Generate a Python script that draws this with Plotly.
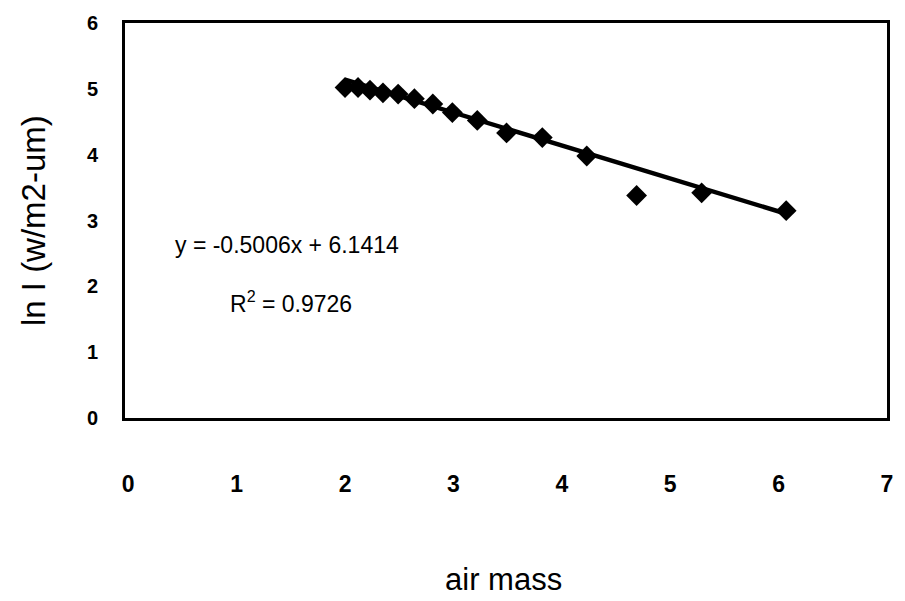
import plotly.graph_objects as go

air_mass = [2.00, 2.12, 2.23, 2.35, 2.49, 2.64, 2.81, 2.99, 3.22, 3.49, 3.82, 4.23, 4.69, 5.29, 6.07]
ln_I = [5.02, 5.02, 4.98, 4.94, 4.92, 4.85, 4.77, 4.64, 4.52, 4.33, 4.26, 3.98, 3.38, 3.42, 3.15]
slope = -0.5006
intercept = 6.1414
r2 = 0.9726
x_ticks = [0, 1, 2, 3, 4, 5, 6, 7]
y_ticks = [0, 1, 2, 3, 4, 5, 6]

FONT = "Liberation Sans, Arial, sans-serif"

x_fit = [min(air_mass), max(air_mass)]
y_fit = [slope * x + intercept for x in x_fit]

fig = go.Figure()
fig.add_trace(go.Scatter(x=x_fit, y=y_fit, mode="lines",
                         line=dict(color="black", width=4.5), showlegend=False))
fig.add_trace(go.Scatter(x=air_mass, y=ln_I, mode="markers",
                         marker=dict(symbol="diamond", size=16, color="black"),
                         showlegend=False))

fig.update_layout(
    width=905, height=601,
    margin=dict(l=125, r=15, t=22, b=183),
    paper_bgcolor="white", plot_bgcolor="white",
    font=dict(family=FONT, color="black"),
    xaxis=dict(range=[-0.03, 7.0], tickvals=x_ticks, showgrid=False, zeroline=False,
               showline=True, linecolor="black", linewidth=3, mirror=True,
               ticks="", tickfont=dict(size=23, family=FONT, weight="bold"),
               ticklabelstandoff=43),
    yaxis=dict(range=[0, 6], tickvals=y_ticks, showgrid=False, zeroline=False,
               showline=True, linecolor="black", linewidth=3, mirror=True,
               ticks="", tickfont=dict(size=20, family=FONT, weight="bold"),
               ticklabelstandoff=20),
    annotations=[
        dict(text=f"y = {slope}x + {intercept}", x=0.063, y=0.437, xref="paper", yref="paper",
             xanchor="left", yanchor="middle", showarrow=False,
             font=dict(size=23, family=FONT)),
        dict(text=f"R<sup>2</sup> = {r2}", x=0.135, y=0.293, xref="paper", yref="paper",
             xanchor="left", yanchor="middle", showarrow=False,
             font=dict(size=23, family=FONT)),
        dict(text="air mass", x=0.497, y=-0.409, xref="paper", yref="paper",
             xanchor="center", yanchor="middle", showarrow=False,
             font=dict(size=31, family=FONT)),
        dict(text="ln I (w/m2-um)", x=-0.120, y=0.5, xref="paper", yref="paper",
             xanchor="center", yanchor="middle", showarrow=False, textangle=-90,
             font=dict(size=33, family=FONT)),
    ],
)

fig.write_html("out.html")
